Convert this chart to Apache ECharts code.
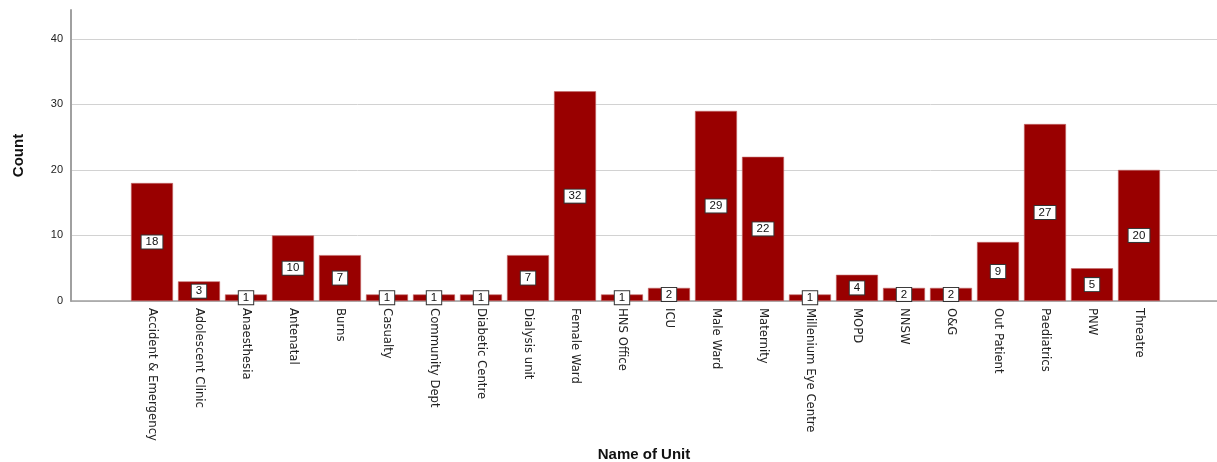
<!DOCTYPE html>
<html>
<head>
<meta charset="utf-8">
<script src="https://cdn.jsdelivr.net/npm/echarts@6/dist/echarts.min.js"></script>
<style>
  html, body { margin: 0; padding: 0; background: #fff; }
  #chart { width: 1217px; height: 462px; }
</style>
</head>
<body>
<div id="chart"></div>
<script>
// Units and their counts
const units = [
  'Accident & Emergency', 'Adolescent Clinic', 'Anaesthesia', 'Antenatal', 'Burns',
  'Casualty', 'Community Dept', 'Diabetic Centre', 'Dialysis unit', 'Female Ward',
  'HNS Office', 'ICU', 'Male Ward', 'Maternity', 'Millenium Eye Centre', 'MOPD',
  'NNSW', 'O&G', 'Out Patient', 'Paediatrics', 'PNW', 'Threatre'
];
const counts = [18, 3, 1, 10, 7, 1, 1, 1, 7, 32, 1, 2, 29, 22, 1, 4, 2, 2, 9, 27, 5, 20];
const countTicks = [0, 10, 20, 30, 40];

const yMax = 44.4;
const labelFont = '"DejaVu Sans Condensed", "Liberation Sans", Arial, sans-serif';
const mainFont = '"Liberation Sans", Arial, sans-serif';

const chart = echarts.init(document.getElementById('chart'));
chart.setOption({
  animation: false,
  backgroundColor: '#ffffff',
  grid: [
    // frame: y axis, gridlines and baseline across the full width
    { left: 71, right: 0, top: 10, bottom: 161, containLabel: false, outerBoundsMode: 'none' },
    // bars
    { left: 128.5, right: 54.5, top: 10, bottom: 161, containLabel: false, outerBoundsMode: 'none' }
  ],
  xAxis: [
    {
      gridIndex: 0, type: 'value', min: 0, max: 1,
      axisLine: { show: true, lineStyle: { color: '#a0a0a0', width: 1.5 } },
      axisTick: { show: false }, axisLabel: { show: false }, splitLine: { show: false },
      name: 'Name of Unit', nameLocation: 'middle', nameGap: 146,
      nameTextStyle: { fontFamily: mainFont, fontWeight: 'bold', fontSize: 15, color: '#111' }
    },
    {
      gridIndex: 1, type: 'category', data: units,
      axisLine: { show: false }, axisTick: { show: false },
      axisLabel: {
        interval: 0, rotate: -90, margin: 7,
        fontFamily: labelFont, fontSize: 13, color: '#222'
      }
    }
  ],
  yAxis: [
    {
      gridIndex: 0, type: 'value', min: 0, max: yMax, interval: 10,
      axisLine: { show: true, lineStyle: { color: '#a0a0a0', width: 2 } },
      axisTick: { show: false },
      axisLabel: {
        margin: 8, fontFamily: mainFont, fontSize: 11, color: '#222',
        showMaxLabel: false,
        formatter: v => (countTicks.includes(v) ? String(v) : '')
      },
      splitLine: { show: true, showMaxLine: false, lineStyle: { color: '#d2d2d2', width: 1 } },
      name: 'Count', nameLocation: 'middle', nameGap: 45,
      nameTextStyle: { fontFamily: mainFont, fontWeight: 'bold', fontSize: 15, color: '#111' }
    },
    {
      gridIndex: 1, type: 'value', min: 0, max: yMax, interval: 10, show: false
    }
  ],
  series: [{
    type: 'bar',
    xAxisIndex: 1, yAxisIndex: 1,
    data: counts,
    barWidth: 42,
    itemStyle: { color: '#990000', borderColor: '#c46a6a', borderWidth: 0.6 },
    label: {
      show: true, position: 'inside',
      fontFamily: mainFont, fontSize: 11.5, color: '#111',
      backgroundColor: '#ffffff', borderColor: '#333', borderWidth: 1,
      padding: [1, 4, 0, 4]
    }
  }]
});
</script>
</body>
</html>
